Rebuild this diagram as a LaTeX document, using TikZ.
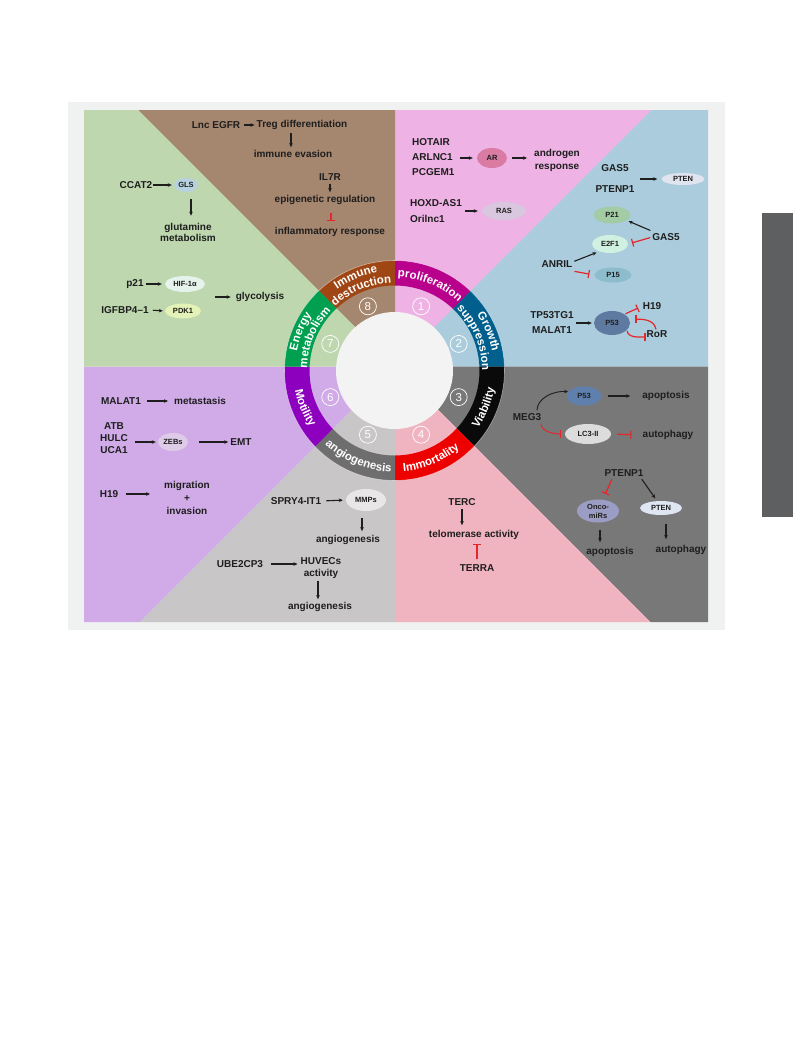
\documentclass[tikz,border=0pt]{standalone}
\usepackage{fontspec}
\setmainfont{Liberation Sans}
\usetikzlibrary{shapes.geometric,arrows.meta,calc,decorations.text}
\definecolor{framec}{HTML}{F0F2F1}
\definecolor{s1}{HTML}{EEB2E4}
\definecolor{s2}{HTML}{AACCDC}
\definecolor{s3}{HTML}{787878}
\definecolor{s4}{HTML}{F0B4C0}
\definecolor{s5}{HTML}{C8C6C6}
\definecolor{s6}{HTML}{D0ABE8}
\definecolor{s7}{HTML}{BED7AF}
\definecolor{s8}{HTML}{A5866F}
\definecolor{r1}{HTML}{B8008C}
\definecolor{r2}{HTML}{005F8C}
\definecolor{r3}{HTML}{0A0A0A}
\definecolor{r4}{HTML}{EC0000}
\definecolor{r5}{HTML}{6E6E6E}
\definecolor{r6}{HTML}{8C00BE}
\definecolor{r7}{HTML}{00A050}
\definecolor{r8}{HTML}{A04614}
\definecolor{txt}{HTML}{1E1E1E}
\definecolor{inhred}{HTML}{E5262C}
\definecolor{sidebar}{HTML}{5E5F61}
\definecolor{hole}{HTML}{F2F3F2}
\newcommand{\ringfont}{\bfseries\fontsize{11.5}{13}\selectfont}
\newcommand{\ringlabel}[4]{%
  \path[decorate, decoration={text along path, text={|\ringfont|#4}, text align=center, text color=white}]
    ($(R)+(#2:#1)$) arc[start angle=#2, end angle=#3, radius=#1];}
\begin{document}
\begin{tikzpicture}[x=1pt,y=1pt,
  lbl/.style={font=\bfseries\fontsize{10}{12}\selectfont, text=txt, inner sep=0pt, align=center},
  ell/.style={ellipse, inner sep=0pt, font=\bfseries\fontsize{7.5}{8.5}\selectfont, text=txt, align=center},
  arr/.style={-{Stealth[length=4pt,width=3.6pt]}, line width=1.1pt, draw=txt, shorten <=1pt},
  inh/.style={-{Bar[width=8pt]}, line width=1.2pt, draw=inhred},
  num/.style={circle, draw=white, line width=0.7pt, minimum size=17pt, inner sep=0pt, text=white, font=\fontsize{11.5}{11.5}\selectfont}
]
\useasboundingbox (0,0) rectangle (793,-1053);
\fill[white] (0,0) rectangle (793,-1053);
\fill[sidebar] (762,-213) rectangle (793,-517);
\fill[framec] (68,-102) rectangle (725,-630);
\coordinate (O) at (395,-366.5);
\coordinate (R) at (394.5,-370.5);
% sectors
\fill[s1] (O) -- (395,-110) -- (651.5,-110) -- cycle;
\fill[s2] (O) -- (651.5,-110) -- (708,-110) -- (708,-366.5) -- cycle;
\fill[s3] (O) -- (708,-366.5) -- (708,-622) -- (650.5,-622) -- cycle;
\fill[s4] (O) -- (650.5,-622) -- (395,-622) -- cycle;
\fill[s5] (O) -- (395,-622) -- (139.5,-622) -- cycle;
\fill[s6] (O) -- (139.5,-622) -- (84,-622) -- (84,-366.5) -- cycle;
\fill[s7] (O) -- (84,-366.5) -- (84,-110) -- (138.5,-110) -- cycle;
\fill[s8] (O) -- (138.5,-110) -- (395,-110) -- cycle;
% ring segments, bounded by the sector lines
\foreach \a/\b/\c in {90/45/r1, 45/0/r2, 0/-45/r3, -45/-90/r4, -90/-135/r5, -135/-180/r6, 180/135/r7, 135/90/r8}{
  \begin{scope}
    \clip (O) -- ($(O)+(\a:200)$) -- ($(O)+(\b:200)$) -- cycle;
    \fill[\c, even odd rule] (R) circle[radius=110] (R) circle[radius=85];
  \end{scope}
}
\draw[white, opacity=0.5, line width=0.6pt] (R) circle[radius=110];
\fill[hole] (R) circle[radius=58.5];
% ring labels
\ringlabel{93.5}{90}{45}{proliferation}
\ringlabel{99.5}{45}{0}{Growth}
\ringlabel{87.5}{45}{0}{suppression}
\ringlabel{101.5}{-45}{0}{Viability}
\ringlabel{101.5}{-90}{-45}{Immortality}
\ringlabel{101.5}{-135}{-90}{angiogenesis}
\ringlabel{101.5}{180}{225}{Motility}
\ringlabel{99.5}{180}{135}{Energy}
\ringlabel{87.5}{180}{135}{metabolism}
\ringlabel{99.5}{135}{90}{Immune}
\ringlabel{87.5}{135}{90}{destruction}
% numbers
\node[num] (n1) at ($(R)+(67.5:69.5)$) {1};
\node[num] (n2) at ($(R)+(22.5:69.5)$) {2};
\node[num] (n3) at ($(R)+(-22.5:69.5)$) {3};
\node[num] (n4) at ($(R)+(-67.5:69.5)$) {4};
\node[num] (n5) at ($(R)+(-112.5:69.5)$) {5};
\node[num] (n6) at ($(R)+(-157.5:69.5)$) {6};
\node[num] (n7) at ($(R)+(157.5:69.5)$) {7};
\node[num] (n8) at ($(R)+(112.5:69.5)$) {8};

% ---- sector 8: immune destruction
\node[lbl] (lncegfr) at (216,-125) {Lnc EGFR};
\node[lbl] (treg) at (302,-125) {Treg differentiation};
\node[lbl] (evasion) at (293,-154) {immune evasion};
\node[lbl] (il7r) at (330,-177) {IL7R};
\node[lbl] (epi) at (325,-200) {epigenetic regulation};
\node[lbl] (inflam) at (330,-232) {inflammatory response};
\draw[arr, shorten <=4pt, shorten >=2pt] (lncegfr.east) -- (treg.west);
\draw[arr, shorten <=3pt, shorten >=3pt] ([xshift=-2pt]evasion.north |- treg.south) -- ([xshift=-2pt]evasion.north);
\draw[arr, shorten <=3pt, shorten >=3pt] (il7r.south) -- (il7r.south |- epi.north);
\draw[inh, shorten <=8pt, shorten >=6pt] ([xshift=1pt]il7r.south |- epi.south) -- ([xshift=1pt]il7r.south |- inflam.north);

% ---- sector 7: energy metabolism
\node[lbl] (ccat2) at (136,-185) {CCAT2};
\node[ell, fill={rgb,255:red,183;green,210;blue,222}, minimum width=24pt, minimum height=14pt] (gls) at (186,-185) {GLS};
\node[lbl, font=\bfseries\fontsize{10}{11}\selectfont] (glut) at (188,-232) {glutamine\\metabolism};
\node[lbl] (p21t) at (135,-284) {p21};
\node[ell, fill={rgb,255:red,230;green,242;blue,236}, minimum width=40pt, minimum height=16pt] (hif) at (185,-284) {HIF-1α};
\node[lbl] (igf) at (125,-310) {IGFBP4–1};
\node[ell, fill={rgb,255:red,227;green,242;blue,182}, minimum width=36pt, minimum height=15pt] (pdk) at (183,-311) {PDK1};
\node[lbl] (glyco) at (260,-297) {glycolysis};
\coordinate (gmid) at (213,-297);
\draw[arr, shorten <=1pt, shorten >=2pt] (ccat2.east) -- (gls.west);
\draw[arr, shorten <=7pt, shorten >=7pt] ([xshift=5pt]gls.south) -- ([xshift=5pt]gls.south |- glut.north);
\draw[arr, shorten <=2pt, shorten >=3pt] (p21t.east) -- (hif.west);
\draw[arr, shorten <=4pt, shorten >=2pt] (igf.east) -- (pdk.west);
\draw[arr, shorten <=2pt, shorten >=5pt] (gmid) -- (glyco.west);

% ---- sector 1: proliferation
\node[lbl, font=\bfseries\fontsize{10}{15}\selectfont, align=left, anchor=west] (hotair) at (412,-157) {HOTAIR\\ARLNC1\\PCGEM1};
\node[ell, fill={rgb,255:red,217;green,123;blue,162}, minimum width=30pt, minimum height=20pt] (ar) at (492,-158) {AR};
\node[lbl, font=\bfseries\fontsize{10}{13}\selectfont] (andro) at (557,-160) {androgen\\response};
\node[lbl, font=\bfseries\fontsize{10}{16}\selectfont, align=left, anchor=west] (hoxd) at (410,-211) {HOXD-AS1\\Orilnc1};
\node[ell, fill={rgb,255:red,217;green,198;blue,223}, minimum width=44pt, minimum height=18pt] (ras) at (504,-211) {RAS};
\draw[arr, shorten <=5pt, shorten >=4pt] (hotair.east |- ar.west) -- (ar.west);
\draw[arr, shorten <=5pt, shorten >=7pt] (ar.east) -- (andro.west |- ar.east);
\draw[arr, shorten <=3pt, shorten >=4pt] (hoxd.east |- ras.west) -- (ras.west);

% ---- sector 2: growth suppression
\node[lbl, font=\bfseries\fontsize{10}{21}\selectfont] (gas5a) at (615,-179) {GAS5\\PTENP1};
\node[ell, fill={rgb,255:red,224;green,228;blue,239}, minimum width=43pt, minimum height=12pt] (ptena) at (683,-179) {PTEN};
\node[ell, fill={rgb,255:red,163;green,203;blue,164}, minimum width=37pt, minimum height=17pt] (p21) at (612,-215) {P21};
\node[lbl] (gas5b) at (666,-237) {GAS5};
\node[ell, fill={rgb,255:red,208;green,240;blue,225}, minimum width=36pt, minimum height=18pt] (e2f1) at (610,-244) {E2F1};
\node[lbl] (anril) at (557,-264) {ANRIL};
\node[ell, fill={rgb,255:red,141;green,189;blue,204}, minimum width=37pt, minimum height=15pt] (p15) at (613,-275) {P15};
\node[lbl, font=\bfseries\fontsize{10}{15}\selectfont] (tp53) at (552,-323) {TP53TG1\\MALAT1};
\node[ell, fill={rgb,255:red,95;green,122;blue,160}, minimum width=36pt, minimum height=24pt] (p53a) at (612,-323) {P53};
\node[lbl] (h19a) at (652,-306) {H19};
\node[lbl] (rora) at (657,-334) {RoR};
\draw[arr, shorten <=5pt, shorten >=4pt] (gas5a.east |- ptena.west) -- (ptena.west);
\draw[arr, shorten <=2pt, shorten >=2pt] ([yshift=2pt]gas5b.north west) -- (p21.-20);
\draw[inh, shorten <=2pt, shorten >=4pt] (gas5b.west) -- (e2f1.east);
\draw[arr, shorten <=2pt, shorten >=3pt] ([yshift=2pt]anril.east) -- (e2f1.215);
\draw[inh, shorten <=2pt, shorten >=5pt] ([yshift=-7pt]anril.east) -- (p15.west);
\draw[arr, shorten <=2pt, shorten >=2pt] (tp53.east) -- (p53a.west);
\draw[inh, shorten <=1pt, shorten >=5pt] (p53a.35) -- (h19a.west);
\draw[inh, shorten >=6pt] ([xshift=-1pt,yshift=1pt]rora.north) to[out=100, in=0] (p53a.12);
\draw[inh, shorten <=1pt, shorten >=1pt] (p53a.-25) to[out=-80, in=180] ([yshift=-3pt]rora.west);

% ---- sector 3: viability
\node[ell, fill={rgb,255:red,95;green,128;blue,172}, minimum width=35pt, minimum height=19pt] (p53b) at (584,-396) {P53};
\node[lbl] (meg3) at (527,-417) {MEG3};
\node[lbl] (apop1) at (666,-396) {apoptosis};
\node[ell, fill={rgb,255:red,220;green,220;blue,220}, minimum width=46pt, minimum height=20pt] (lc3) at (588,-434) {LC3-II};
\node[lbl] (autoph1) at (668,-435) {autophagy};
\node[lbl] (ptenp1) at (624,-473) {PTENP1};
\node[ell, fill={rgb,255:red,156;green,157;blue,196}, minimum width=42pt, minimum height=23pt, font=\bfseries\fontsize{7.5}{9}\selectfont] (onco) at (598,-511) {Onco-\\miRs};
\node[ell, fill={rgb,255:red,223;green,229;blue,242}, minimum width=42pt, minimum height=14pt] (ptenb) at (661,-508) {PTEN};
\node[lbl] (apop2) at (610,-552) {apoptosis};
\node[lbl] (autoph2) at (681,-550) {autophagy};
\draw[arr, line width=0.9pt, shorten <=3pt] ([xshift=10pt]meg3.north) to[out=90, in=175] (p53b.165);
\draw[arr, shorten <=6pt, shorten >=12pt] (p53b.east) -- (apop1.west);
\draw[inh, line width=1pt, shorten <=3pt, shorten >=4pt] ([xshift=14pt]meg3.south) to[out=-90, in=180] (lc3.west);
\draw[inh, shorten <=6pt, shorten >=11pt] (lc3.east) -- (autoph1.west);
\draw[inh, shorten <=3pt, shorten >=6pt] ([xshift=-11pt]ptenp1.south) -- ([xshift=5pt]onco.north);
\draw[arr, shorten <=3pt, shorten >=3pt] ([xshift=16pt]ptenp1.south) -- ([xshift=-4pt]ptenb.north);
\draw[arr, shorten <=7pt, shorten >=5pt] ([xshift=2pt]onco.south) -- ([xshift=2pt]onco.south |- apop2.north);
\draw[arr, shorten <=9pt, shorten >=6pt] ([xshift=5pt]ptenb.south) -- ([xshift=5pt]ptenb.south |- autoph2.north);

% ---- sector 4: immortality
\node[lbl] (terc) at (462,-502) {TERC};
\node[lbl] (telo) at (474,-535) {telomerase activity};
\node[lbl] (terra) at (477,-568) {TERRA};
\draw[arr, shorten <=3pt, shorten >=5pt] (terc.south) -- (terc.south |- telo.north);
\draw[inh, shorten <=5pt, shorten >=4pt] (terra.north) -- (terra.north |- telo.south);

% ---- sector 5: angiogenesis
\node[lbl] (spry) at (296,-501) {SPRY4-IT1};
\node[ell, fill={rgb,255:red,232;green,230;blue,230}, minimum width=40pt, minimum height=22pt] (mmps) at (366,-500) {MMPs};
\node[lbl] (angio1) at (348,-540) {angiogenesis};
\node[lbl] (ube) at (240,-564) {UBE2CP3};
\node[lbl, font=\bfseries\fontsize{10}{12}\selectfont] (huvec) at (321,-568) {HUVECs\\activity};
\node[lbl] (angio2) at (320,-607) {angiogenesis};
\draw[arr, shorten <=5pt, shorten >=3pt] (spry.east) -- (mmps.west);
\draw[arr, shorten <=7pt, shorten >=4pt] ([xshift=-4pt]mmps.south) -- ([xshift=-4pt]mmps.south |- angio1.north);
\draw[arr, shorten <=8pt, shorten >=3pt] (ube.east) -- (huvec.west |- ube.east);
\draw[arr, shorten <=2pt, shorten >=3pt] ([xshift=-3pt]huvec.south) -- ([xshift=-3pt]huvec.south |- angio2.north);

% ---- sector 6: motility
\node[lbl] (malat) at (121,-401) {MALAT1};
\node[lbl] (meta) at (200,-401) {metastasis};
\node[lbl, font=\bfseries\fontsize{10}{12}\selectfont] (atb) at (114,-438) {ATB\\HULC\\UCA1};
\node[ell, fill={rgb,255:red,221;green,203;blue,231}, minimum width=30pt, minimum height=18pt] (zebs) at (173,-442) {ZEBs};
\node[lbl] (emt) at (241,-442) {EMT};
\node[lbl] (h19b) at (109,-494) {H19};
\node[lbl, font=\bfseries\fontsize{10}{13}\selectfont] (migr) at (187,-498) {migration\\+\\invasion};
\draw[arr, shorten <=6pt, shorten >=6pt] (malat.east) -- (meta.west);
\draw[arr, shorten <=7pt, shorten >=2pt] (atb.east |- zebs.west) -- (zebs.west);
\draw[arr, shorten <=11pt, shorten >=2pt] (zebs.east) -- (emt.west);
\draw[arr, shorten <=8pt, shorten >=14pt] (h19b.east) -- (migr.west |- h19b.east);
\end{tikzpicture}
\end{document}
